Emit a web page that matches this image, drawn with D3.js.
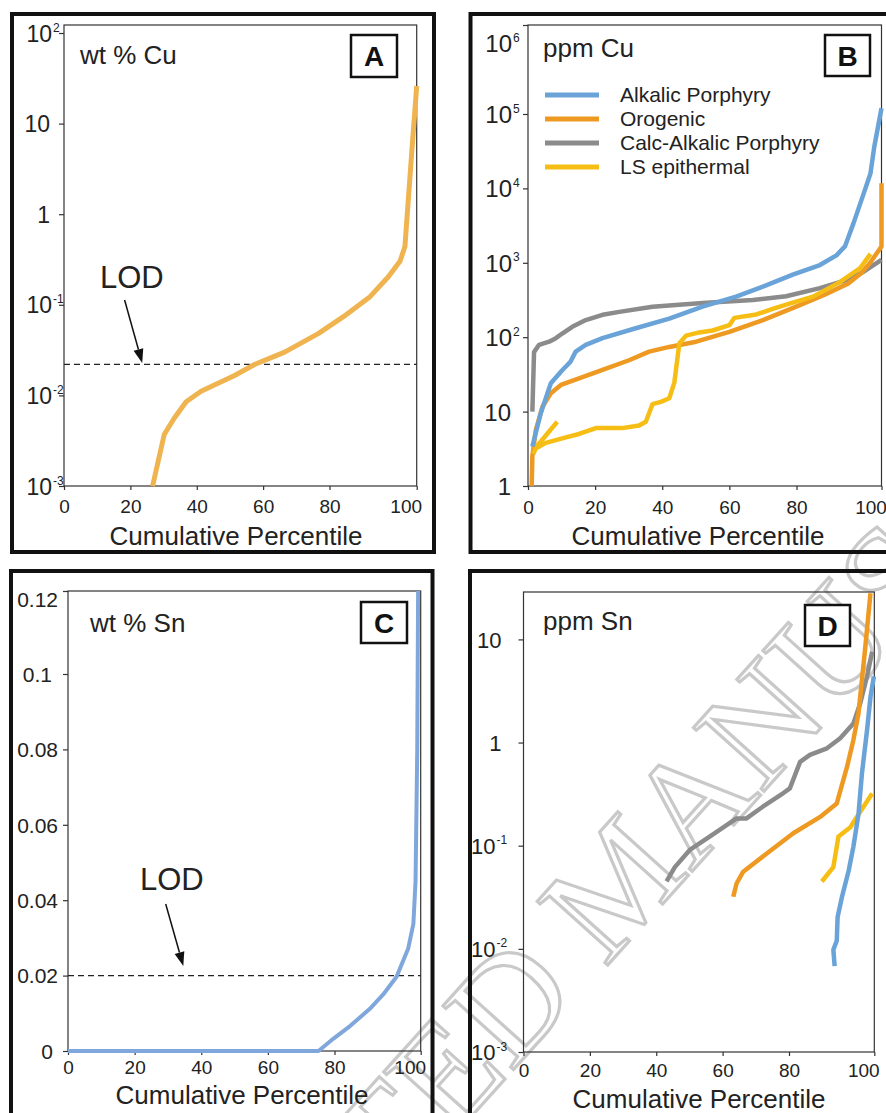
<!DOCTYPE html>
<html>
<head>
<meta charset="utf-8">
<script src="https://cdn.jsdelivr.net/npm/d3@7"></script>
<style>
  body { margin: 0; background: #fff; }
  svg { display: block; }
</style>
</head>
<body>
<svg id="chart" width="886" height="1113"></svg>
<script>
// ---- data (percentile, value) ----
const pctTicks = [0, 20, 40, 60, 80, 100];

// A: wt % Cu
const cuWtTicks = [1e-3, 1e-2, 1e-1, 1, 10, 100];
const cuWt = [[26.7,0.001],[30.2,0.0037],[33.2,0.0056],[36.8,0.0085],[41.3,0.0111],[51.4,0.0166],
  [57.4,0.0219],[66.5,0.030],[76.6,0.048],[83.2,0.074],[89.3,0.123],[93.5,0.204],[96.2,0.305],
  [97.3,0.44],[98.9,5.1],[100,26]];
const cuLOD = 0.022;

// B: ppm Cu
const cuPpmTicks = [1, 10, 1e2, 1e3, 1e4, 1e5, 1e6];
const seriesNames = ["Alkalic Porphyry", "Orogenic", "Calc-Alkalic Porphyry", "LS epithermal"];
const cuAlkalic = [[1.3,3.4],[3.8,9.5],[6.8,24],[10.2,36],[12.7,47],[14.2,64],[17.2,79],[22.2,97],
  [32.1,132],[42.1,178],[52,257],[62,351],[70,479],[78.9,692],[85.5,933],[89.4,1259],[91.4,1660],
  [93.4,3388],[95.8,8511],[97.4,15849],[98.3,36308],[100,116000]];
const cuOrogenic = [[1.1,1],[1.3,2.5],[2.3,5.6],[4.3,11.6],[6.8,17.6],[9.8,22.8],[15.2,28],[22.2,36.3],
  [30.1,49],[36.1,64],[42.1,74],[50.1,87],[60,118],[70,170],[79.9,257],[86.5,369],[92.1,525],
  [95.2,724],[97.2,977],[100,1660],[100,11700]];
const cuCalcAlk = [[1.3,10],[1.8,63],[3.3,79],[6.3,87],[8.3,97],[10.2,112],[13.2,138],[17.2,170],
  [22.2,200],[27.2,219],[37.1,257],[52,288],[67,316],[76.9,355],[85.5,457],[91.9,589],[95.8,759],[100,1096]];
const cuLS = [[1.6,2.7],[2.3,3.2],[5.3,3.8],[11.3,4.5],[15.2,5],[20.2,6],[28.1,6],[33.1,6.5],[35.1,7.3],
  [37.1,12.6],[39.6,13.5],[42.1,15.1],[43.6,24.5],[45.1,83],[47.1,105],[51,116],[55,123],[60,145],
  [61.5,182],[68,202],[72.9,240],[77.9,282],[83.9,351],[90.2,550],[95,851],[97.4,1318]];
const cuLSspike = [[2.6,3.4],[8.7,7.3]];

// C: wt % Sn
const snWtTicks = [0, 0.02, 0.04, 0.06, 0.08, 0.1, 0.12];
const snWt = [[0,0],[75.2,0],[79.7,0.0033],[83.6,0.0066],[88.2,0.0112],[91.3,0.015],[94.4,0.0197],
  [97.1,0.0272],[98.3,0.0337],[98.8,0.045],[99.2,0.08],[99.4,0.12]];
const snLOD = 0.02;

// D: ppm Sn
const snPpmTicks = [1e-3, 1e-2, 1e-1, 1, 10];
const snAlkalic = [[90.7,0.0068],[90.4,0.0098],[91.2,0.012],[91.4,0.0204],[92.4,0.0316],[94,0.0575],
  [95.1,0.098],[96.3,0.204],[97.1,0.50],[98.3,1.32],[99.1,2.75],[99.9,4.37]];
const snOrogenic = [[63.2,0.032],[64.2,0.043],[66.2,0.056],[73.3,0.084],[81,0.132],[87.3,0.19],
  [91.2,0.257],[93.6,0.58],[95.1,1.06],[96.3,1.92],[97.1,4.07],[97.9,8.5],[99.1,28]];
const snCalcAlk = [[43.1,0.045],[45.6,0.062],[50.1,0.091],[56.2,0.123],[61.2,0.158],[64.2,0.184],
  [67.2,0.184],[72.2,0.24],[78.3,0.324],[80.2,0.36],[82.6,0.65],[84.9,0.76],[88.9,0.88],[92,1.1],
  [95.1,1.53],[96.7,2.4],[98.3,4.4],[99.5,7.6]];
const snLS = [[87.7,0.045],[90.4,0.062],[91.6,0.123],[94.4,0.151],[95.9,0.19],[99.5,0.32]];

// ---- styles ----
const FONT = '"Liberation Sans", Arial, Helvetica, sans-serif';
const colors = { alk: "#6aa3d8", oro: "#ee9a22", calc: "#8b8b8b", ls: "#f6be14", cuA: "#efb450", snC: "#7fa7dc" };

const svg = d3.select("#chart").attr("font-family", FONT);

// watermark, sits behind everything
const wm = svg.append("g")
  .attr("transform", "translate(605,968) rotate(-48)")
  .attr("font-family", '"Liberation Serif", "Times New Roman", serif')
  .attr("font-size", 145)
  .attr("fill", "none")
  .attr("stroke", "#c9c9c9")
  .attr("stroke-width", 3.2);
wm.append("text").attr("x", -36).attr("text-anchor", "end").text("ACCEPTED");
wm.append("text").attr("text-anchor", "start").text("MANUSCRIPT");

// outer panel frames
[[12,14,422,538],[470.5,14,420,538],[11,571,421.5,560],[470,571,420,560]].forEach(f => {
  svg.append("rect").attr("x", f[0]).attr("y", f[1]).attr("width", f[2]).attr("height", f[3])
    .attr("fill", "none").attr("stroke", "#111").attr("stroke-width", 4);
});

function powLabel(o) {
  return function (sel, d) {
    const e = Math.round(Math.log10(d));
    const t = sel.append("text").attr("fill", "#222").attr("font-size", o.yFont)
      .attr("text-anchor", "end").attr("dy", "0.35em");
    if (d === 1 || d === 10) {
      t.attr("x", -o.plainEnd).text(d);
    } else {
      t.attr("x", -o.baseEnd).text("10");
      sel.append("text").attr("x", -o.baseEnd + 1).attr("y", -2).attr("fill", "#222")
        .attr("text-anchor", "start").attr("font-size", 12).text(e);
    }
  };
}

function plot(o) {
  const g = svg.append("g");
  // x axis
  const xa = g.append("g").attr("transform", `translate(0,${o.b})`)
    .call(d3.axisBottom(o.x).tickValues(pctTicks).tickSize(4).tickSizeOuter(0));
  xa.select(".domain").remove();
  xa.selectAll(".tick line").attr("stroke", "#333").attr("stroke-width", 1.2);
  xa.selectAll(".tick text").attr("y", o.xLabY).attr("dy", 0).attr("font-size", 19)
    .attr("font-family", FONT).attr("fill", "#222").attr("dx", d => d === 100 ? -11 : 0);
  // y axis
  const ya = g.append("g").attr("transform", `translate(${o.l},0)`)
    .call(d3.axisLeft(o.y).tickValues(o.yTicks).tickSize(5).tickSizeOuter(0).tickFormat(""));
  ya.select(".domain").remove();
  ya.selectAll(".tick line").attr("stroke", "#333").attr("stroke-width", 1.2);
  ya.selectAll(".tick text").remove();
  ya.selectAll(".tick").each(function (d) {
    const lab = d3.select(this).append("g").attr("font-family", FONT)
      .attr("transform", `translate(0,${o.labShift ? o.labShift(d) : 0})`);
    o.yLabel(lab, d);
  });
  // plot box
  g.append("rect").attr("x", o.l).attr("y", o.t).attr("width", o.r - o.l).attr("height", o.b - o.t)
    .attr("fill", "none").attr("stroke", "#333").attr("stroke-width", 1.2);
  // x title
  g.append("text").attr("x", o.titleX).attr("y", o.b + o.titleY).attr("text-anchor", "middle")
    .attr("font-size", 26).attr("fill", "#222").text("Cumulative Percentile");
  // unit label
  g.append("text").attr("x", o.unit[1]).attr("y", o.unit[2]).attr("font-size", 26).attr("fill", "#222").text(o.unit[0]);
  // panel letter box
  const L = o.letter;
  g.append("rect").attr("x", L[1]).attr("y", L[2]).attr("width", L[3]).attr("height", L[4])
    .attr("fill", "#fff").attr("stroke", "#111").attr("stroke-width", 2.5);
  g.append("text").attr("x", L[1] + L[3] / 2).attr("y", L[2] + L[4] / 2 + 10).attr("text-anchor", "middle")
    .attr("font-size", 28).attr("font-weight", "bold").attr("fill", "#111").text(L[0]);
  return g;
}

function drawLine(g, o, data, color, width) {
  const line = d3.line().x(d => o.x(d[0])).y(d => o.y(d[1]));
  g.append("path").datum(data).attr("d", line).attr("fill", "none")
    .attr("stroke", color).attr("stroke-width", width).attr("stroke-linejoin", "round");
}

function lod(g, o, v, text, tx, ty, a) {
  g.append("line").attr("x1", o.l).attr("x2", o.r).attr("y1", o.y(v)).attr("y2", o.y(v))
    .attr("stroke", "#222").attr("stroke-width", 1.3).attr("stroke-dasharray", "6,4");
  g.append("text").attr("x", tx).attr("y", ty).attr("font-size", 31).attr("fill", "#222").text(text);
  // arrow: a = [x1,y1,x2,y2]
  const dx = a[2] - a[0], dy = a[3] - a[1], len = Math.hypot(dx, dy);
  const ux = dx / len, uy = dy / len, hl = 14, hw = 5;
  g.append("line").attr("x1", a[0]).attr("y1", a[1]).attr("x2", a[2] - ux * hl).attr("y2", a[3] - uy * hl)
    .attr("stroke", "#111").attr("stroke-width", 1.5);
  const bx = a[2] - ux * hl, by = a[3] - uy * hl;
  g.append("polygon").attr("fill", "#111")
    .attr("points", [[a[2], a[3]], [bx - uy * hw, by + ux * hw], [bx + uy * hw, by - ux * hw]].map(p => p.join(",")).join(" "));
}

// ---- Panel A ----
const pA = {
  l: 64, t: 25, r: 416.7, b: 486,
  x: d3.scaleLinear().domain([0, 80, 100]).range([64, 329.5, 416.7]),
  y: d3.scaleLog().domain([1e-3, 1e2]).range([486, 33]),
  yTicks: cuWtTicks, xLabY: 27, titleX: 236, titleY: 59,
  unit: ["wt % Cu", 80, 64], letter: ["A", 351, 35, 46, 42]
};
pA.yLabel = powLabel({ yFont: 23, baseEnd: 12, plainEnd: 14 });
const gA = plot(pA);
lod(gA, pA, cuLOD, "LOD", 100, 288, [124.6, 300, 142.2, 363]);
drawLine(gA, pA, cuWt, colors.cuA, 5);

// ---- Panel B ----
const pB = {
  l: 528, t: 25, r: 881.5, b: 486,
  x: d3.scaleLinear().domain([0, 80, 100]).range([528, 796.5, 881.5]),
  y: d3.scaleLog().domain([1, 1e5, 1e6]).range([486, 114, 25]),
  yTicks: cuPpmTicks, xLabY: 28, titleX: 698, titleY: 59,
  unit: ["ppm Cu", 543, 57], letter: ["B", 825, 35, 45, 41],
  labShift: d => d === 1e6 ? 18 : 0
};
pB.yLabel = powLabel({ yFont: 24, baseEnd: 16, plainEnd: 17 });
const gB = plot(pB);
drawLine(gB, pB, cuCalcAlk, colors.calc, 4.5);
drawLine(gB, pB, cuOrogenic, colors.oro, 4.5);
drawLine(gB, pB, cuLSspike, colors.ls, 4.5);
drawLine(gB, pB, cuLS, colors.ls, 4.5);
drawLine(gB, pB, cuAlkalic, colors.alk, 4.5);

const legendColors = [colors.alk, colors.oro, colors.calc, colors.ls];
const leg = gB.append("g");
seriesNames.forEach((n, i) => {
  const y = 95 + i * 24;
  leg.append("line").attr("x1", 545).attr("x2", 599).attr("y1", y).attr("y2", y)
    .attr("stroke", legendColors[i]).attr("stroke-width", 5);
  leg.append("text").attr("x", 620).attr("y", y + 7).attr("font-size", 21).attr("fill", "#222").text(n);
});

// ---- Panel C ----
const pC = {
  l: 68, t: 591, r: 420.7, b: 1051,
  x: d3.scaleLinear().domain([0, 80, 100]).range([68, 334.5, 420.7]),
  y: d3.scaleLinear().domain([0, 0.1, 0.12]).range([1051, 674, 591]),
  yTicks: snWtTicks, xLabY: 23, titleX: 242, titleY: 53,
  unit: ["wt % Sn", 90, 632], letter: ["C", 361, 602, 46, 41],
  labShift: d => d === 0.12 ? 8 : 0
};
pC.yLabel = (sel, d) => {
  const end = d === 0 ? 15 : d === 0.1 ? 16 : 10;
  sel.append("text").attr("x", -end).attr("dy", "0.35em").attr("text-anchor", "end")
    .attr("font-size", 21).attr("fill", "#222").text(String(d));
};
const gC = plot(pC);
lod(gC, pC, snLOD, "LOD", 140, 890, [165.7, 904, 183.3, 966]);
drawLine(gC, pC, snWt, colors.snC, 4);

// ---- Panel D ----
const pD = {
  l: 523.5, t: 592, r: 874.3, b: 1052,
  x: d3.scaleLinear().domain([0, 80, 100]).range([523.5, 789, 874.3]),
  y: d3.scaleLog().domain([1e-3, 10]).range([1052, 639.4]),
  yTicks: snPpmTicks, xLabY: 25, titleX: 699, titleY: 56,
  unit: ["ppm Sn", 543, 630], letter: ["D", 805, 605, 45, 41]
};
pD.yLabel = powLabel({ yFont: 22, baseEnd: 28, plainEnd: 22 });
const gD = plot(pD);
drawLine(gD, pD, snCalcAlk, colors.calc, 4.5);
drawLine(gD, pD, snOrogenic, colors.oro, 4.5);
drawLine(gD, pD, snLS, colors.ls, 4.5);
drawLine(gD, pD, snAlkalic, colors.alk, 4.5);
</script>
</body>
</html>
